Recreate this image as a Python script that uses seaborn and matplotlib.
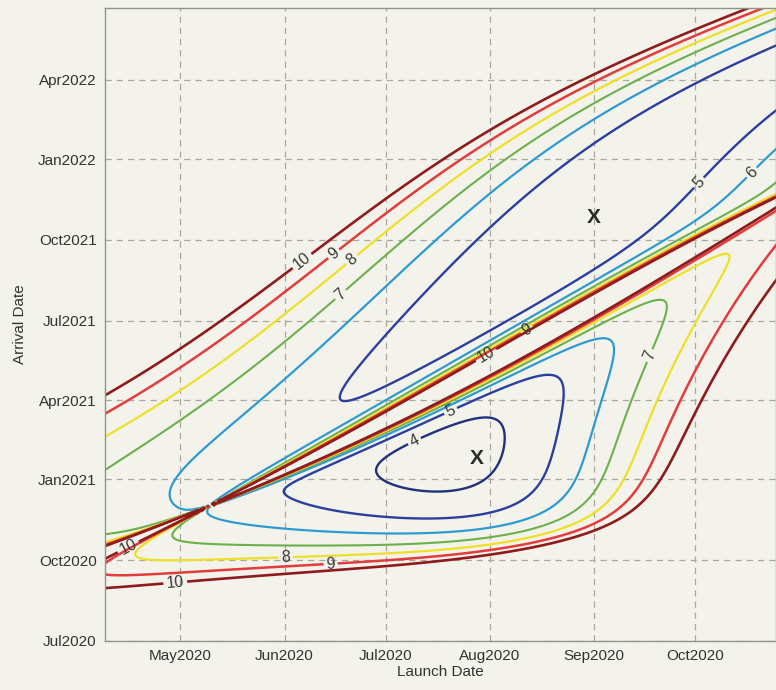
import numpy as np
import pandas as pd
import matplotlib
matplotlib.use("Agg")
import matplotlib.pyplot as plt
import matplotlib.dates as mdates
import seaborn as sns

# ---------------- data ----------------
levels = [4, 5, 6, 7, 8, 9, 10]                      # departure v-infinity, km/s
level_colors = ["#23307a", "#2b3f9e", "#2f9ad2", "#6cb04c", "#eee026", "#e23c3c", "#8e1c1c"]
level_widths = [1.7, 1.7, 1.6, 1.5, 1.6, 1.8, 1.9]
launch_window = ["2020-04-01", "2020-11-05"]
arrival_window = ["2020-06-15", "2022-07-15"]
launch_view = ["2020-04-08 16:00", "2020-10-25"]
arrival_view = ["2020-07-01", "2022-06-22"]
xtick_dates = ["2020-05-01", "2020-06-01", "2020-07-01", "2020-08-01", "2020-09-01", "2020-10-01"]
ytick_dates = ["2020-07-01", "2020-10-01", "2021-01-01", "2021-04-01", "2021-07-01",
               "2021-10-01", "2022-01-01", "2022-04-01"]
# optimum markers
min_launch = ["2020-07-28", "2020-09-01"]
min_arrival = ["2021-01-25", "2021-10-26"]
# JPL approximate Keplerian elements (J2000, rates per century):
# a [AU], e, I [deg], L [deg], long.peri [deg], long.node [deg]
earth_el = [1.00000261, 0.01671123, -0.00001531, 100.46457166, 102.93768193, 0.0]
earth_rt = [0.00000562, -0.00004392, -0.01294668, 35999.37244981, 0.32327364, 0.0]
mars_el = [1.52371034, 0.09339410, 1.84969142, -4.55343205, -23.94362959, 49.55953891]
mars_rt = [0.00001847, 0.00007882, -0.00813131, 19140.30268499, 0.44441088, -0.29257343]

MU = 0.01720209895 ** 2          # AU^3/day^2
KMS = 149597870.7 / 86400.0      # AU/day -> km/s


def planet_state(el, rt, jd):
    T = (jd - 2451545.0) / 36525.0
    a, e, I, L, wb, Om = [el[k] + rt[k] * T for k in range(6)]
    I, L, wb, Om = np.radians(I), np.radians(L), np.radians(wb), np.radians(Om)
    w = wb - Om
    M = np.mod(L - wb + np.pi, 2 * np.pi) - np.pi
    E = M + e * np.sin(M)
    for _ in range(30):
        E = E - (E - e * np.sin(E) - M) / (1 - e * np.cos(E))
    n = np.sqrt(MU / a ** 3)
    xp = a * (np.cos(E) - e)
    yp = a * np.sqrt(1 - e ** 2) * np.sin(E)
    Ed = n / (1 - e * np.cos(E))
    vxp = -a * np.sin(E) * Ed
    vyp = a * np.sqrt(1 - e ** 2) * np.cos(E) * Ed
    cw, sw, cO, sO, cI, sI = np.cos(w), np.sin(w), np.cos(Om), np.sin(Om), np.cos(I), np.sin(I)
    R = [[cw * cO - sw * sO * cI, -sw * cO - cw * sO * cI],
         [cw * sO + sw * cO * cI, -sw * sO + cw * cO * cI],
         [sw * sI, cw * sI]]
    r = np.stack([R[k][0] * xp + R[k][1] * yp for k in range(3)], axis=-1)
    v = np.stack([R[k][0] * vxp + R[k][1] * vyp for k in range(3)], axis=-1)
    return r, v


def stumpff(z):
    C = np.full_like(z, 0.5)
    S = np.full_like(z, 1.0 / 6.0)
    p = z > 1e-8
    q = z < -1e-8
    sp = np.sqrt(z[p])
    C[p] = (1 - np.cos(sp)) / z[p]
    S[p] = (sp - np.sin(sp)) / sp ** 3
    sn = np.sqrt(-z[q])
    C[q] = (np.cosh(sn) - 1) / (-z[q])
    S[q] = (np.sinh(sn) - sn) / sn ** 3
    return C, S


def lambert_v1(r1, r2, tof):
    r1n = np.linalg.norm(r1, axis=-1)
    r2n = np.linalg.norm(r2, axis=-1)
    cz = r1[..., 0] * r2[..., 1] - r1[..., 1] * r2[..., 0]
    cosd = np.clip(np.sum(r1 * r2, axis=-1) / (r1n * r2n), -1, 1)
    dth = np.where(cz >= 0, np.arccos(cosd), 2 * np.pi - np.arccos(cosd))
    A = np.sin(dth) * np.sqrt(r1n * r2n / (1 - np.cos(dth)))
    lo = np.full(tof.shape, -150.0)
    hi = np.full(tof.shape, 4 * np.pi ** 2 - 1e-4)
    for _ in range(90):
        z = 0.5 * (lo + hi)
        C, S = stumpff(z)
        y = r1n + r2n + A * (z * S - 1) / np.sqrt(C)
        yy = np.maximum(y, 1e-12)
        t = ((yy / C) ** 1.5 * S + A * np.sqrt(yy)) / np.sqrt(MU)
        small = (y < 0) | (t < tof)
        lo = np.where(small, z, lo)
        hi = np.where(small, hi, z)
    z = 0.5 * (lo + hi)
    C, S = stumpff(z)
    y = np.maximum(r1n + r2n + A * (z * S - 1) / np.sqrt(C), 1e-12)
    f = 1 - y / r1n
    g = A * np.sqrt(y / MU)
    v1 = (r2 - f[..., None] * r1) / g[..., None]
    return v1


# ---------------- grid ----------------
lx = np.linspace(mdates.datestr2num(launch_window[0]), mdates.datestr2num(launch_window[1]), 360)
ay = np.linspace(mdates.datestr2num(arrival_window[0]), mdates.datestr2num(arrival_window[1]), 460)
JD0 = 2440587.5
rE, vE = planet_state(earth_el, earth_rt, lx + JD0)
rM, _ = planet_state(mars_el, mars_rt, ay + JD0)
LX, AY = np.meshgrid(lx, ay)
R1 = np.broadcast_to(rE[None, :, :], LX.shape + (3,))
V1E = np.broadcast_to(vE[None, :, :], LX.shape + (3,))
R2 = np.broadcast_to(rM[:, None, :], LX.shape + (3,))
TOF = AY - LX
with np.errstate(all="ignore"):
    v1 = lambert_v1(R1, R2, np.maximum(TOF, 1.0))
    vinf = np.linalg.norm(v1 - V1E, axis=-1) * KMS
vinf = np.where(TOF > 25, vinf, np.nan)
vinf = np.where(np.isfinite(vinf), vinf, np.nan)

df_min = pd.DataFrame({"launch": mdates.datestr2num(min_launch),
                       "arrival": mdates.datestr2num(min_arrival)})

# ---------------- plot ----------------
sns.set_theme(style="whitegrid")
bg = "#f3f3ec"
plt.rcParams["font.family"] = ["Liberation Sans", "DejaVu Sans"]
fig = plt.figure(figsize=(7.76, 6.90), dpi=100, facecolor=bg)
ax = fig.add_axes([105 / 776, 1 - 641 / 690, 671 / 776, 633 / 690])
ax.set_facecolor(bg)

cs = ax.contour(LX, AY, vinf, levels=levels, colors=level_colors, linewidths=level_widths)
ax.clabel(cs, fmt="%d", fontsize=11.5, inline=True, colors="#3a3a3a", inline_spacing=2)

for _, row in df_min.iterrows():
    ax.text(row["launch"], row["arrival"], "X", fontsize=15, fontweight="bold",
            color="#2a2a2a", ha="center", va="center")

ax.set_xlim(mdates.datestr2num(launch_view[0]), mdates.datestr2num(launch_view[1]))
ax.set_ylim(mdates.datestr2num(arrival_view[0]), mdates.datestr2num(arrival_view[1]))
ax.set_xticks([mdates.datestr2num(d) for d in xtick_dates])
ax.set_yticks([mdates.datestr2num(d) for d in ytick_dates])
ax.xaxis.set_major_formatter(mdates.DateFormatter("%b%Y"))
ax.yaxis.set_major_formatter(mdates.DateFormatter("%b%Y"))
ax.grid(True, color="#a8a8a0", linestyle=(0, (5, 4)), linewidth=0.9)
for s in ax.spines.values():
    s.set_color("#8f9684")
    s.set_linewidth(1.0)
ax.tick_params(axis="both", labelsize=11, colors="#333333", length=4, direction="in",
               labelcolor="#333333", pad=6)
ax.set_xlabel("Launch Date", fontsize=11, color="#333333", labelpad=1)
ax.set_ylabel("Arrival Date", fontsize=11, color="#333333", labelpad=8)

fig.savefig("out.png", dpi=100, facecolor=bg)
